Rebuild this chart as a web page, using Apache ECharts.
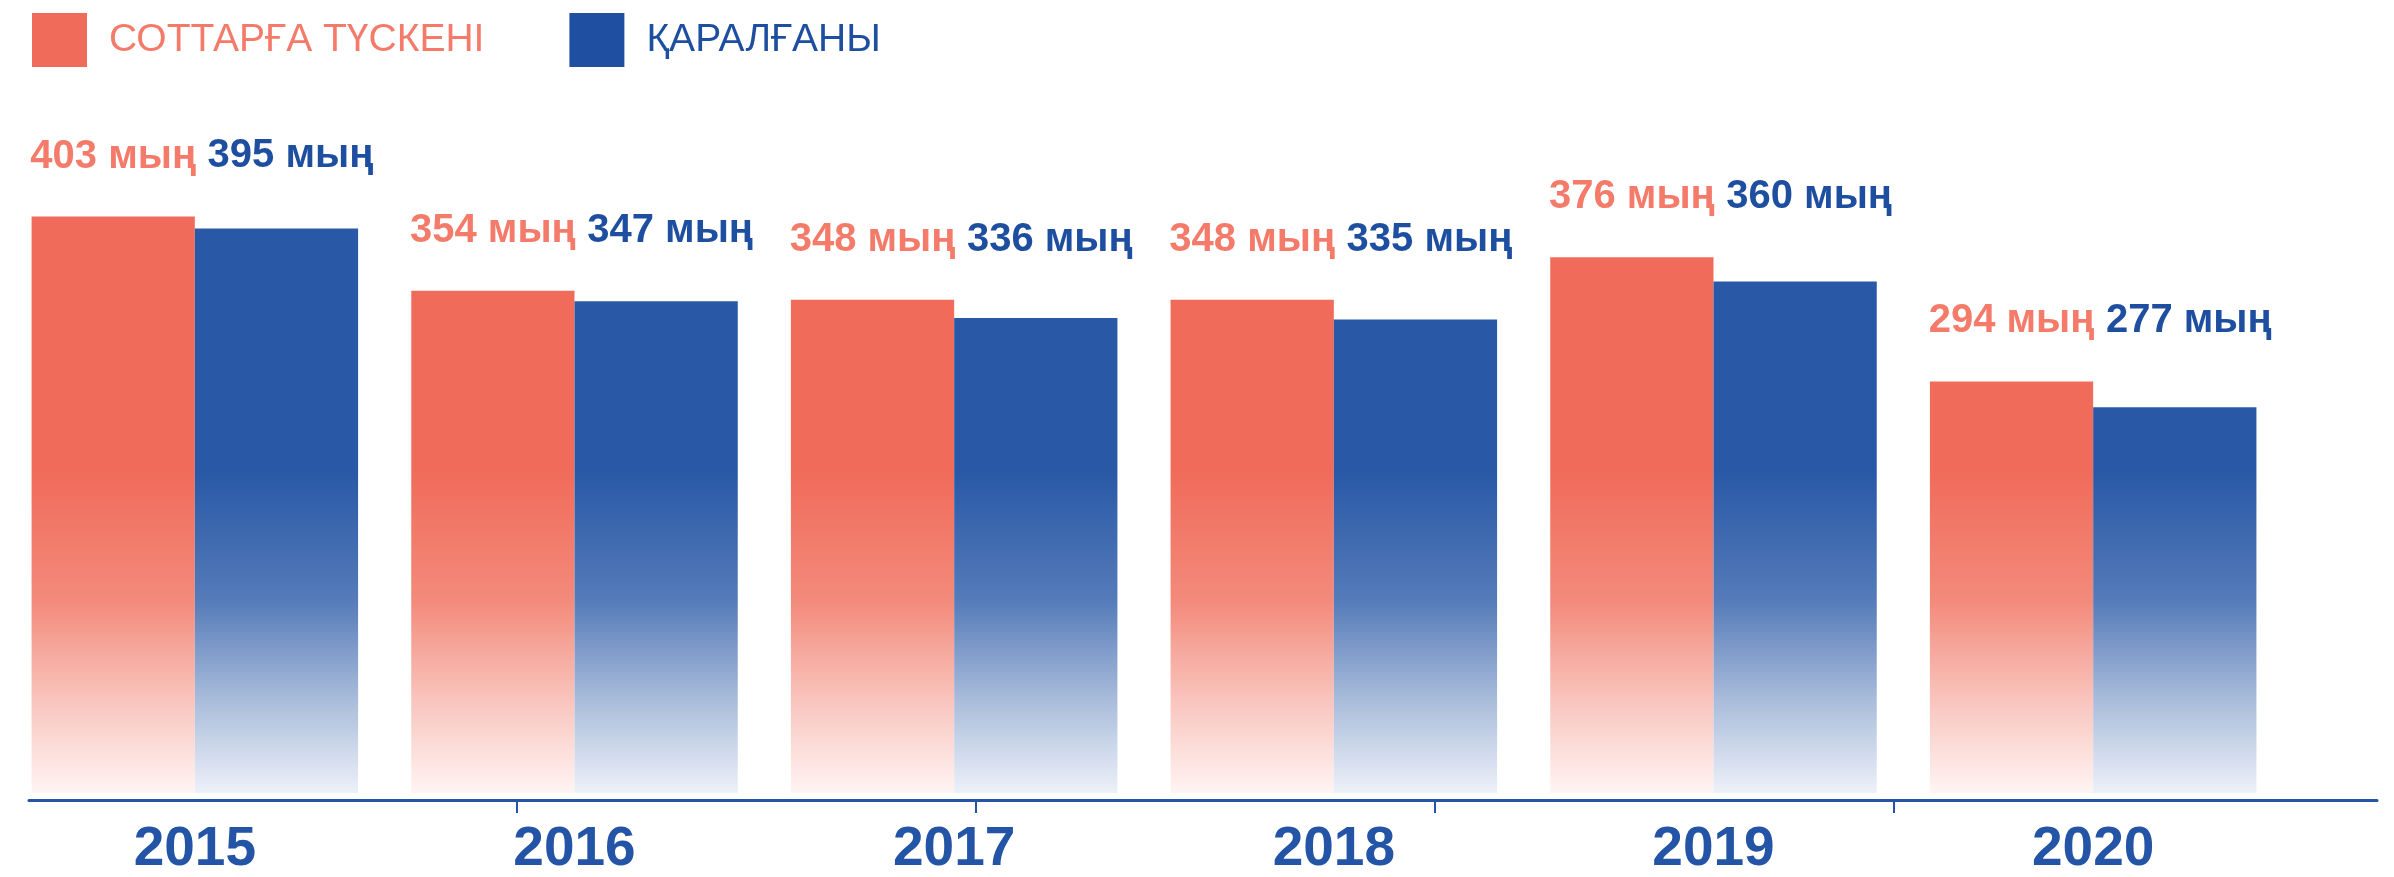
<!DOCTYPE html>
<html>
<head>
<meta charset="utf-8">
<script src="https://cdn.jsdelivr.net/npm/echarts@6/dist/echarts.min.js"></script>
<style>html,body{margin:0;padding:0;background:#fff;}#c{width:2394px;height:877px;}</style>
</head>
<body>
<div id="c"></div>
<script>
const years = ['2015', '2016', '2017', '2018', '2019', '2020'];
const received = [403, 354, 348, 348, 376, 294];
const reviewed = [395, 347, 336, 335, 360, 277];
const seriesNames = ['СОТТАРҒА ТҮСКЕНІ', 'ҚАРАЛҒАНЫ'];
const unit = ' мың';

const RED = '#F06B5A', RED_TXT = '#F47A6A';
const BLUE = '#2858A6', BLUE_TXT = '#1E4E9F';
const SANS = '"Liberation Sans", Arial, sans-serif';

const chart = echarts.init(document.getElementById('c'));

const yMin = 22, yMax = 480, gridTop = 100, gridBottom = 77;
const H = 877;
const axisY = H - gridBottom;
const pxPerUnit = (H - gridTop - gridBottom) / (yMax - yMin);

// global vertical fade (absolute y within the chart)
function grad(c0, c1, c2, c3) {
  const yStart = gridTop + 100, yEnd = axisY;
  return new echarts.graphic.LinearGradient(0, yStart, 0, yEnd, [
    {offset: 0, color: c0}, {offset: 0.45, color: c0},
    {offset: 0.667, color: c1}, {offset: 0.833, color: c2}, {offset: 1, color: c3}
  ], true);
}

const labelFont = {fontFamily: SANS, fontWeight: 'bold', fontSize: 40};

const option = {
  backgroundColor: '#ffffff',
  animation: false,
  legend: {
    left: 27, top: 8,
    itemWidth: 55, itemHeight: 54, itemGap: 85,
    icon: 'rect',
    textStyle: {fontFamily: SANS, fontSize: 39, padding: [0, 0, 0, 17]},
    data: [
      {name: seriesNames[0], itemStyle: {color: RED}, textStyle: {color: RED_TXT}},
      {name: seriesNames[1], itemStyle: {color: '#1E4FA0'}, textStyle: {color: '#1E4E9F'}}
    ]
  },
  grid: [
    {left: 5, right: 111, top: gridTop, bottom: gridBottom},
    {left: 29, right: 17, top: gridTop, bottom: gridBottom},
    {left: 517, right: 500, top: gridTop, bottom: gridBottom}
  ],
  xAxis: [
    {
      gridIndex: 0, type: 'category', data: years,
      axisLine: {show: false}, axisTick: {show: false},
      axisLabel: {color: '#2454A6', fontFamily: SANS, fontWeight: 'bold', fontSize: 55, margin: 29}
    },
    {
      gridIndex: 1, type: 'category', data: [''],
      axisLine: {show: true, lineStyle: {color: '#2454A6', width: 3}},
      axisTick: {show: false}, axisLabel: {show: false}
    },
    {
      gridIndex: 2, type: 'category', data: ['', '', '', ''], boundaryGap: false,
      axisLine: {show: false},
      axisTick: {show: true, length: 13, lineStyle: {color: '#2454A6', width: 2}},
      axisLabel: {show: false}
    }
  ],
  yAxis: [
    {gridIndex: 0, type: 'value', min: yMin, max: yMax, show: false, splitLine: {show: false}},
    {gridIndex: 1, type: 'value', show: false, splitLine: {show: false}},
    {gridIndex: 2, type: 'value', show: false, splitLine: {show: false}}
  ],
  series: [
    {
      name: seriesNames[0], type: 'bar', xAxisIndex: 0, yAxisIndex: 0,
      barGap: '0%', barCategoryGap: '14%',
      itemStyle: {color: grad(RED, '#F38A7B', '#F9C4BD', '#FFF8F7')},
      label: Object.assign({show: true, position: 'top', distance: 40, color: RED_TXT,
        formatter: p => p.value + unit}, labelFont),
      data: received
    },
    {
      name: seriesNames[1], type: 'bar', xAxisIndex: 0, yAxisIndex: 0,
      itemStyle: {color: grad(BLUE, '#557BB9', '#A9BCDB', '#F2F5FB')},
      data: reviewed.map((v, i) => ({
        value: v,
        label: Object.assign({show: true, position: 'top', distance: 40, color: BLUE_TXT,
          offset: [14, -(received[i] - v) * pxPerUnit],
          formatter: p => p.value + unit}, labelFont)
      }))
    }
  ]
};
chart.setOption(option);
</script>
</body>
</html>
